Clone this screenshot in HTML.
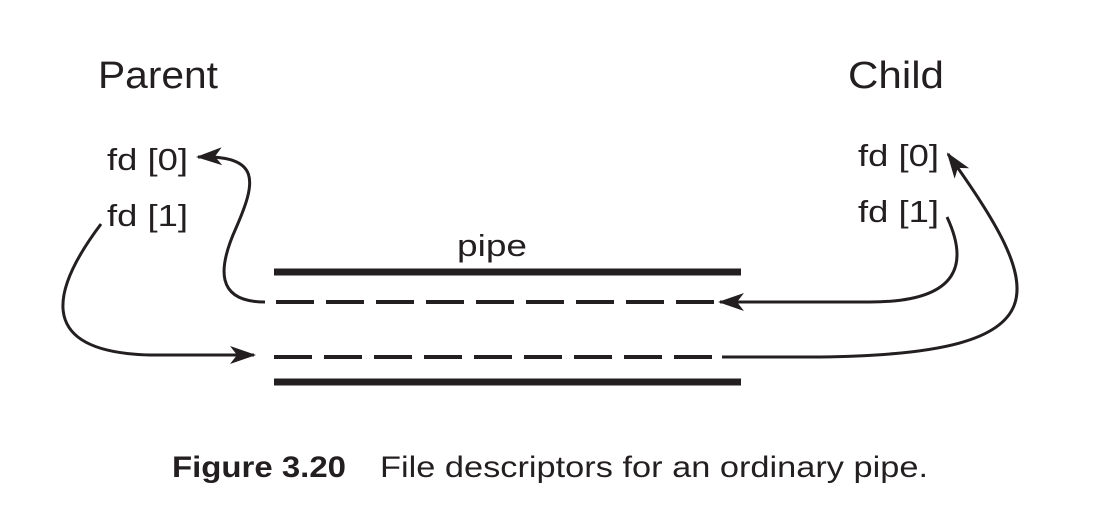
<!DOCTYPE html>
<html><head><meta charset="utf-8"><style>
body{margin:0;background:#fff;width:1116px;height:519px;overflow:hidden}
svg text{font-family:"Liberation Sans",sans-serif;fill:#231f20}
</style></head><body>
<svg width="1116" height="519" viewBox="0 0 1116 519">
<defs><marker id="ah" viewBox="0 0 26 18" refX="24" refY="9" markerWidth="26" markerHeight="18" markerUnits="userSpaceOnUse" orient="auto"><path d="M0,0 L26,9 L0,18 L7,9 Z" fill="#231f20"/></marker></defs>
<text x="98" y="88" font-size="38" textLength="120" lengthAdjust="spacingAndGlyphs">Parent</text>
<text x="848" y="88" font-size="38" textLength="96" lengthAdjust="spacingAndGlyphs">Child</text>
<text x="107" y="170" font-size="31" textLength="81" lengthAdjust="spacingAndGlyphs">fd [0]</text>
<text x="107" y="226" font-size="31" textLength="81" lengthAdjust="spacingAndGlyphs">fd [1]</text>
<text x="858" y="166" font-size="31" textLength="81" lengthAdjust="spacingAndGlyphs">fd [0]</text>
<text x="858" y="222" font-size="31" textLength="81" lengthAdjust="spacingAndGlyphs">fd [1]</text>
<text x="457" y="256" font-size="31" textLength="70" lengthAdjust="spacingAndGlyphs">pipe</text>
<g stroke="#231f20" fill="none">
<line x1="274" y1="272" x2="741" y2="272" stroke-width="7"/>
<line x1="274" y1="382" x2="741" y2="382" stroke-width="7"/>
<line x1="276" y1="302" x2="714" y2="302" stroke-width="4" stroke-dasharray="38 12"/>
<line x1="274" y1="357" x2="714" y2="357" stroke-width="4" stroke-dasharray="38 12"/>
</g>
<g stroke="#231f20" stroke-width="3" fill="none">
<path d="M265,302 C215,302 218,268 236,228 C256,182 262,155 198,157" marker-end="url(#ah)"/>
<path d="M101,224 C55,285 30,352 150,355 L254,355" marker-end="url(#ah)"/>
<path d="M947,217 C968,262 962,302 870,302 L720,302" marker-end="url(#ah)"/>
<path d="M722,357 L820,357 C1070,354 1045,290 948,154" marker-end="url(#ah)"/>
</g>
<text x="172" y="477" font-size="30" font-weight="bold" textLength="174" lengthAdjust="spacingAndGlyphs">Figure 3.20</text>
<text x="380" y="477" font-size="30" textLength="548" lengthAdjust="spacingAndGlyphs">File descriptors for an ordinary pipe.</text>
</svg>
</body></html>
